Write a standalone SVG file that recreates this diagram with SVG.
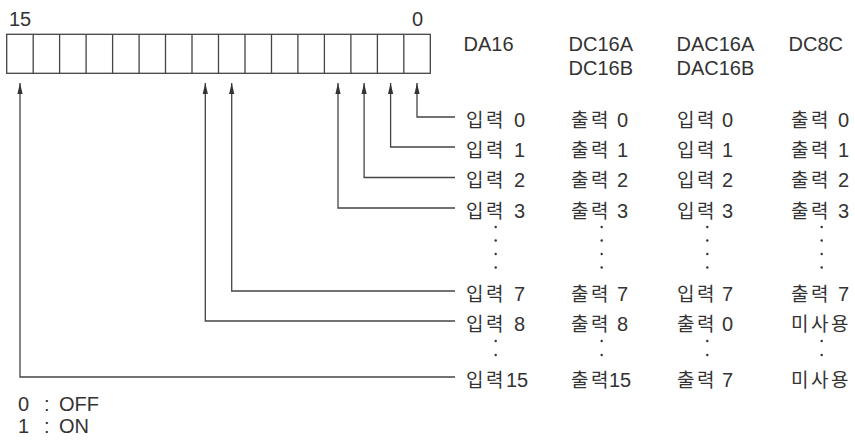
<svg xmlns="http://www.w3.org/2000/svg" width="855" height="445" viewBox="0 0 855 445">
<style>
text{font-family:"Liberation Sans","Noto Sans CJK KR",sans-serif;font-size:20px;fill:#333}
.ko{font-size:19px;letter-spacing:2.5px}
.cell{fill:none;stroke:#444;stroke-width:1.3}
.conn path{fill:none;stroke:#444;stroke-width:1.3}
.dot{fill:#333}
</style>
<defs>
<marker id="ah" markerUnits="userSpaceOnUse" viewBox="0 0 11 6" refX="11" refY="3" markerWidth="11" markerHeight="6" orient="auto">
<path d="M0,0.4 L11,3 L0,5.6 Z" fill="#333"/>
</marker>
</defs>
<rect width="855" height="445" fill="#fff"/>

<g id="register">
<text x="9" y="25.5">15</text>
<text x="412" y="25.5">0</text>
<rect class="cell" x="6.7" y="34.3" width="423.6" height="39"/>
<path class="cell" d="M33.2,34.3V73.3M59.6,34.3V73.3M86.1,34.3V73.3M112.6,34.3V73.3M139.1,34.3V73.3M165.5,34.3V73.3M192,34.3V73.3M218.5,34.3V73.3M245,34.3V73.3M271.5,34.3V73.3M297.9,34.3V73.3M324.4,34.3V73.3M350.9,34.3V73.3M377.4,34.3V73.3M403.8,34.3V73.3"/>
</g>

<g id="connectors" class="conn">
<path d="M455,117H417V83" marker-end="url(#ah)"/>
<path d="M455,147H390.6V83" marker-end="url(#ah)"/>
<path d="M455,177.5H364.1V83" marker-end="url(#ah)"/>
<path d="M455,208H338V83" marker-end="url(#ah)"/>
<path d="M455,291H231.7V83" marker-end="url(#ah)"/>
<path d="M455,321H205.3V83" marker-end="url(#ah)"/>
<path d="M455,377H20V83" marker-end="url(#ah)"/>
</g>

<g id="headers">
<text x="463.5" y="50.7">DA16</text>
<text x="568.5" y="50.7">DC16A</text>
<text x="568.5" y="75">DC16B</text>
<text x="676.5" y="50.7">DAC16A</text>
<text x="676.5" y="75">DAC16B</text>
<text x="788.5" y="50.7">DC8C</text>
</g>

<g id="row0">
<text x="466" y="126.5"><tspan class="ko">입력</tspan> <tspan x="514">0</tspan></text>
<text x="571" y="126.5"><tspan class="ko">출력</tspan> <tspan x="617">0</tspan></text>
<text x="677" y="126.5"><tspan class="ko">입력</tspan> <tspan x="722">0</tspan></text>
<text x="791" y="126.5"><tspan class="ko">출력</tspan> <tspan x="838">0</tspan></text>
</g>
<g id="row1">
<text x="466" y="156.5"><tspan class="ko">입력</tspan> <tspan x="514">1</tspan></text>
<text x="571" y="156.5"><tspan class="ko">출력</tspan> <tspan x="617">1</tspan></text>
<text x="677" y="156.5"><tspan class="ko">입력</tspan> <tspan x="722">1</tspan></text>
<text x="791" y="156.5"><tspan class="ko">출력</tspan> <tspan x="838">1</tspan></text>
</g>
<g id="row2">
<text x="466" y="187"><tspan class="ko">입력</tspan> <tspan x="514">2</tspan></text>
<text x="571" y="187"><tspan class="ko">출력</tspan> <tspan x="617">2</tspan></text>
<text x="677" y="187"><tspan class="ko">입력</tspan> <tspan x="722">2</tspan></text>
<text x="791" y="187"><tspan class="ko">출력</tspan> <tspan x="838">2</tspan></text>
</g>
<g id="row3">
<text x="466" y="217.5"><tspan class="ko">입력</tspan> <tspan x="514">3</tspan></text>
<text x="571" y="217.5"><tspan class="ko">출력</tspan> <tspan x="617">3</tspan></text>
<text x="677" y="217.5"><tspan class="ko">입력</tspan> <tspan x="722">3</tspan></text>
<text x="791" y="217.5"><tspan class="ko">출력</tspan> <tspan x="838">3</tspan></text>
</g>
<g id="dots1">
<circle class="dot" cx="495.7" cy="227" r="1.2"/><circle class="dot" cx="495.7" cy="240.5" r="1.2"/><circle class="dot" cx="495.7" cy="254" r="1.2"/><circle class="dot" cx="495.7" cy="267.5" r="1.2"/>
<circle class="dot" cx="601.7" cy="227" r="1.2"/><circle class="dot" cx="601.7" cy="240.5" r="1.2"/><circle class="dot" cx="601.7" cy="254" r="1.2"/><circle class="dot" cx="601.7" cy="267.5" r="1.2"/>
<circle class="dot" cx="707.3" cy="227" r="1.2"/><circle class="dot" cx="707.3" cy="240.5" r="1.2"/><circle class="dot" cx="707.3" cy="254" r="1.2"/><circle class="dot" cx="707.3" cy="267.5" r="1.2"/>
<circle class="dot" cx="821.7" cy="227" r="1.2"/><circle class="dot" cx="821.7" cy="240.5" r="1.2"/><circle class="dot" cx="821.7" cy="254" r="1.2"/><circle class="dot" cx="821.7" cy="267.5" r="1.2"/>
</g>
<g id="row7">
<text x="466" y="300.5"><tspan class="ko">입력</tspan> <tspan x="514">7</tspan></text>
<text x="571" y="300.5"><tspan class="ko">출력</tspan> <tspan x="617">7</tspan></text>
<text x="677" y="300.5"><tspan class="ko">입력</tspan> <tspan x="722">7</tspan></text>
<text x="791" y="300.5"><tspan class="ko">출력</tspan> <tspan x="838">7</tspan></text>
</g>
<g id="row8">
<text x="466" y="330.5"><tspan class="ko">입력</tspan> <tspan x="514">8</tspan></text>
<text x="571" y="330.5"><tspan class="ko">출력</tspan> <tspan x="617">8</tspan></text>
<text x="677" y="330.5"><tspan class="ko">출력</tspan> <tspan x="722">0</tspan></text>
<text x="791" y="330.5" class="ko">미사용</text>
</g>
<g id="dots2">
<circle class="dot" cx="495.7" cy="341" r="1.2"/><circle class="dot" cx="495.7" cy="355" r="1.2"/>
<circle class="dot" cx="601.7" cy="341" r="1.2"/><circle class="dot" cx="601.7" cy="355" r="1.2"/>
<circle class="dot" cx="707.3" cy="341" r="1.2"/><circle class="dot" cx="707.3" cy="355" r="1.2"/>
<circle class="dot" cx="821.7" cy="341" r="1.2"/><circle class="dot" cx="821.7" cy="355" r="1.2"/>
</g>
<g id="row15">
<text x="466" y="386.5"><tspan class="ko">입력</tspan><tspan x="506">15</tspan></text>
<text x="571" y="386.5"><tspan class="ko">출력</tspan><tspan x="609">15</tspan></text>
<text x="677" y="386.5"><tspan class="ko">출력</tspan> <tspan x="722">7</tspan></text>
<text x="791" y="386.5" class="ko">미사용</text>
</g>

<g id="legend">
<text x="18" y="411">0<tspan x="44">:</tspan><tspan x="59">OFF</tspan></text>
<text x="18" y="433">1<tspan x="44">:</tspan><tspan x="59">ON</tspan></text>
</g>
</svg>
